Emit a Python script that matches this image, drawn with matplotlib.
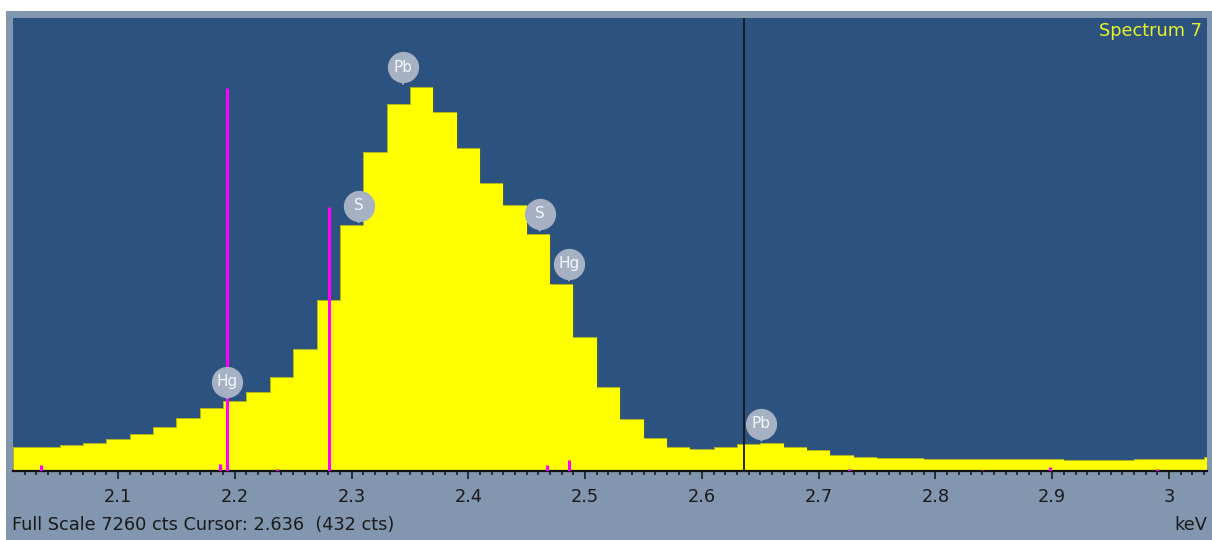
"""EDS spectrum view (Spectrum 7) around the Pb M / S K / Hg M overlap region."""
import matplotlib
matplotlib.use("Agg")
import matplotlib.pyplot as plt
from matplotlib.patches import Rectangle
from matplotlib.transforms import offset_copy
from matplotlib.ticker import MultipleLocator
import numpy as np

# spectrum channels (keV), 0.02 keV wide
BIN_LO = 2.01
BIN_WIDTH = 0.02
counts = [
    380, 380, 412, 444, 508, 588, 705, 854, 1005, 1122,
    1266, 1502, 1950, 2740, 3942, 5117, 5877, 6149, 5758, 5172,
    4611, 4263, 3793, 2997, 2152, 1351, 829, 534, 380, 346,
    385, 432, 445, 380, 330, 260, 228, 210, 210, 185,
    185, 185, 185, 200, 200, 180, 180, 180, 200, 200,
    200, 228,
]

# magenta line markers (keV, cts)
line_kev = [2.034, 2.187, 2.1935, 2.236, 2.281, 2.4675, 2.4865, 2.726, 2.840, 2.898, 2.990]
line_cts = [90, 117, 6133, 40, 4226, 90, 176, 30, 20, 60, 40]

# element badges
badge_text = ["Hg", "S", "Pb", "S", "Hg", "Pb"]
badge_kev = [2.1935, 2.306, 2.344, 2.461, 2.486, 2.651]
badge_cts = [1122, 3943, 6160, 3810, 3009, 444]

FULL_SCALE = 7260
CURSOR_KEV = 2.636
CURSOR_CTS = 432
X_MIN, X_MAX = 2.0101, 3.0325

BG = "#2c5380"
FRAME = "#8296b0"
YELLOW = "#ffff00"
MAGENTA = "#ff00ff"
BADGE = "#a6b1c4"
FS = 12.8

W, H = 1212, 540


def main():
    fig = plt.figure(figsize=(W / 100, H / 100), dpi=100)
    fig.patch.set_facecolor("white")
    fig.patches.append(Rectangle((6 / W, 0), 1 - 6 / W, 1 - 11 / H, transform=fig.transFigure,
                                 facecolor=FRAME, edgecolor="none", zorder=-5))

    ax = fig.add_axes([13 / W, 1 - 471 / H, 1194 / W, 453 / H])
    ax.set_zorder(1)
    ax.set_facecolor(BG)

    edges = BIN_LO + BIN_WIDTH * np.arange(len(counts) + 1)
    ax.stairs(counts, edges, fill=True, color=YELLOW, zorder=2)
    ax.stairs(counts, edges, color="#5d6a3c", lw=0.6, alpha=0.6, zorder=2.1)

    ax.vlines(line_kev, 0, line_cts, color=MAGENTA, lw=2.2, zorder=3)
    ax.axvline(CURSOR_KEV, color="#151515", lw=1.3, zorder=4)

    # badges: stem from peak position, circle with element symbol above it
    for t, e, c in zip(badge_text, badge_kev, badge_cts):
        ax.annotate("", xy=(e, c), xytext=(0, 8), textcoords="offset points",
                    arrowprops=dict(arrowstyle="-", color=BADGE, lw=1.5), zorder=5)
        tr = offset_copy(ax.transData, fig=fig, x=0, y=14, units="points")
        ax.plot([e], [c], marker="o", ms=21.5, color=BADGE, mec=BADGE, transform=tr, zorder=6)
        ax.text(e, c, t, transform=tr, ha="center", va="center", color="#f4f6fa",
                fontsize=11, zorder=7)

    ax.set_xlim(X_MIN, X_MAX)
    ax.set_ylim(0, FULL_SCALE)
    ax.xaxis.set_major_locator(MultipleLocator(0.1))
    ax.xaxis.set_minor_locator(MultipleLocator(0.01))
    ax.xaxis.set_major_formatter(lambda v, p: f"{v:g}")
    ax.set_yticks([])
    for s in ["top", "left", "right"]:
        ax.spines[s].set_visible(False)
    ax.spines["bottom"].set_color("#111111")
    ax.spines["bottom"].set_linewidth(1.6)
    ax.tick_params(axis="x", which="major", direction="out", length=6, width=1.1,
                   color="#111111", labelsize=FS, labelcolor="#1a1a1a", pad=6)
    ax.tick_params(axis="x", which="minor", direction="out", length=3, width=1.1, color="#111111")

    ax.text(0.9962, 0.972, "Spectrum 7", transform=ax.transAxes, ha="right", va="center",
            color="#e8f02a", fontsize=FS)

    fig.text(12 / W, 1 - 525 / H, f"Full Scale {FULL_SCALE} cts Cursor: {CURSOR_KEV}  ({CURSOR_CTS} cts)",
             ha="left", va="center", fontsize=FS, color="#1a1a1a")
    fig.text(1207 / W, 1 - 525 / H, "keV", ha="right", va="center", fontsize=FS, color="#1a1a1a")

    fig.savefig("out.png", dpi=100, facecolor=fig.get_facecolor())
    plt.close(fig)


if __name__ == "__main__":
    main()
